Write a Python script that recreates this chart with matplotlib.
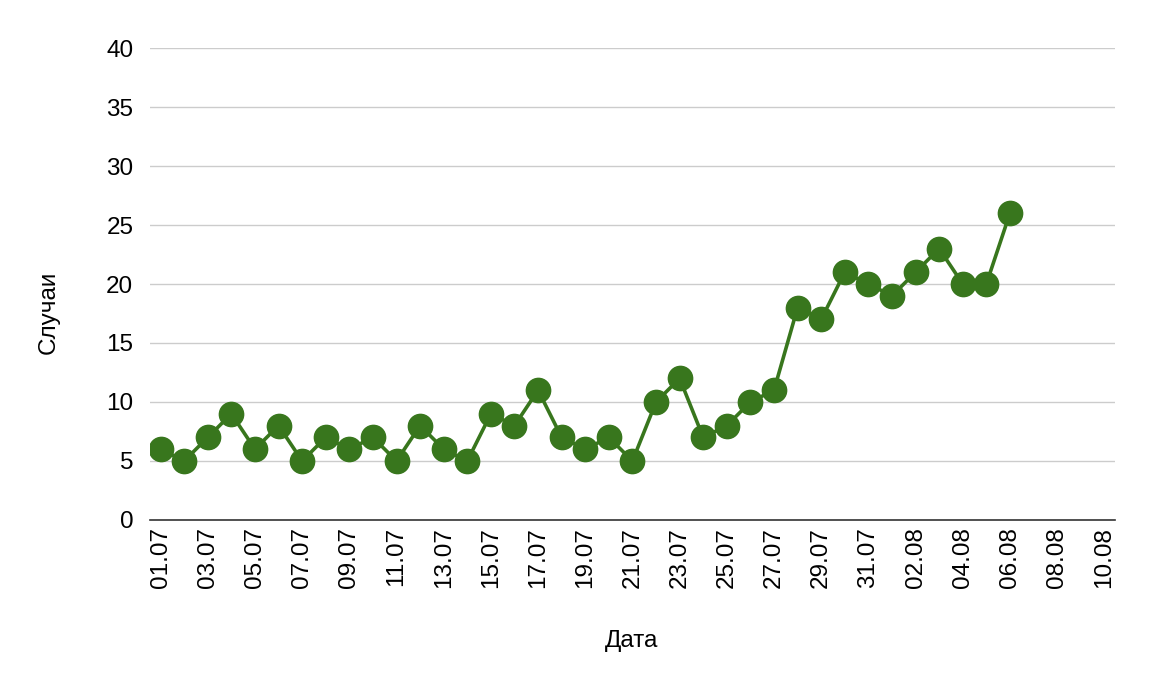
import matplotlib
matplotlib.use("Agg")
import matplotlib.pyplot as plt
import datetime as dt

# Dane: liczba przypadków dziennie
start = dt.date(2020, 7, 1)
days_total = 41  # 01.07 - 10.08
cases = [6, 5, 7, 9, 6, 8, 5, 7, 6, 7, 5, 8, 6, 5, 9, 8, 11, 7, 6, 7, 5,
         10, 12, 7, 8, 10, 11, 18, 17, 21, 20, 19, 21, 23, 20, 20, 26]
y_ticks = [0, 5, 10, 15, 20, 25, 30, 35, 40]

tick_days = list(range(0, days_total, 2))
tick_labels = [(start + dt.timedelta(days=d)).strftime("%d.%m") for d in tick_days]

plt.rcParams['font.family'] = ['Liberation Sans', 'DejaVu Sans']

fig = plt.figure(figsize=(11.5, 6.9), dpi=100)
ax = fig.add_axes([0.1304, 0.2464, 0.8391, 0.684])

ax.plot(range(len(cases)), cases, color="#38761d", linewidth=2.6,
        marker="o", markersize=17.5, zorder=3)

ax.set_xlim(-0.45, days_total - 1 + 0.45)
ax.set_ylim(0, 40)
ax.set_yticks(y_ticks)
ax.set_xticks(tick_days)
ax.set_xticklabels(tick_labels, rotation=90)
ax.tick_params(axis="both", length=0, labelsize=17.5, colors="#000000")
ax.tick_params(axis="y", pad=12)
ax.tick_params(axis="x", pad=5)

ax.grid(axis="y", color="#cccccc", linewidth=1)
ax.set_axisbelow(True)
for s in ["top", "right", "left"]:
    ax.spines[s].set_visible(False)
ax.spines["bottom"].set_color("#333333")
ax.spines["bottom"].set_linewidth(1.2)

ax.set_xlabel("Дата", fontsize=17.5)
ax.set_ylabel("Случаи", fontsize=17.5)
ax.xaxis.set_label_coords(0.4995, -0.256)
ax.xaxis.label.set_va("center")
ax.yaxis.set_label_coords(-0.105, 0.44)
ax.yaxis.label.set_va("center")

plt.savefig("out.png", dpi=100)
